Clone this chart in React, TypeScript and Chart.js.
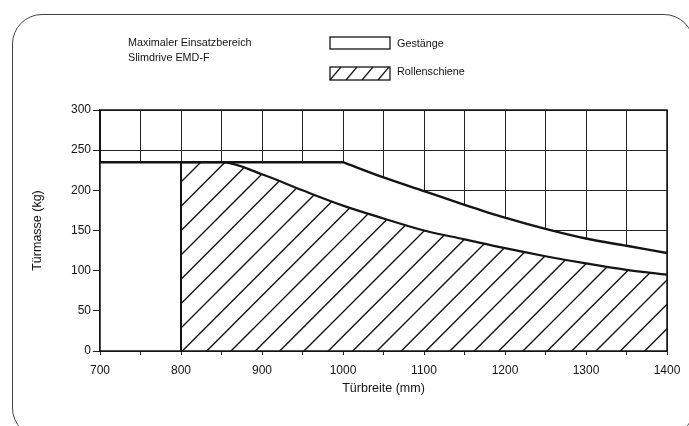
import React, { useEffect, useRef } from 'react';
import { Chart, registerables } from 'chart.js';

Chart.register(...registerables);

// ---- data ----
const xMin = 700;
const xMax = 1400;
const yMin = 0;
const yMax = 300;
const xStep = 50;
const yStep = 50;

// Gestänge: flat part and falling part
const gestangeFlatX = [700, 1000];
const gestangeFlatY = [235, 235];
const gestangeCurveX = [1000, 1050, 1100, 1150, 1200, 1250, 1300, 1350, 1400];
const gestangeCurveY = [235, 216, 199, 182, 166, 152, 140, 131, 122];

// Rollenschiene
const rollenX = [800, 850, 900, 950, 1000, 1050, 1100, 1150, 1200, 1250, 1300, 1350, 1400];
const rollenY = [235, 235, 220, 200, 181, 165, 150, 139, 128, 118, 109, 101, 95];

const rollenEdgeX = [800, 800];
const rollenEdgeY = [0, 235];

const titleLines = ['Maximaler Einsatzbereich', 'Slimdrive EMD-F'];
const legendLabels = ['Gestänge', 'Rollenschiene'];
const xTitle = 'Türbreite (mm)';
const yTitle = 'Türmasse (kg)';

const FONT = '"Liberation Sans", Arial, Helvetica, sans-serif';
const INK = '#141414';

function makeHatch(ctx: CanvasRenderingContext2D): CanvasPattern | string {
  const s = 73;
  const gap = s / 3;
  const c = document.createElement('canvas');
  c.width = s;
  c.height = s;
  const g = c.getContext('2d');
  if (!g) return 'rgba(0,0,0,0)';
  g.strokeStyle = INK;
  g.lineWidth = 1.4;
  g.beginPath();
  for (let k = -1; k <= 7; k++) {
    const cc = k * gap;
    g.moveTo(cc + 5, -5);
    g.lineTo(cc - s - 5, s + 5);
  }
  g.stroke();
  const p = ctx.createPattern(c, 'repeat');
  if (!p) return 'rgba(0,0,0,0)';
  try {
    p.setTransform(new DOMMatrix().translate(-2, 0));
  } catch (e) {
    /* ignore */
  }
  return p;
}

const framePlugin = {
  id: 'plotFrame',
  afterDatasetsDraw(chart: any) {
    const { ctx, chartArea: a } = chart;
    ctx.save();
    ctx.strokeStyle = INK;
    ctx.lineWidth = 1.5;
    ctx.strokeRect(a.left, a.top, a.right - a.left, a.bottom - a.top);
    ctx.restore();
  },
};

function ChartCanvas() {
  const ref = useRef<HTMLCanvasElement | null>(null);
  useEffect(() => {
    const canvas = ref.current;
    if (!canvas) return;
    const ctx = canvas.getContext('2d');
    if (!ctx) return;
    const hatch = makeHatch(ctx);
    const toPts = (xs: number[], ys: number[]) => xs.map((x, i) => ({ x, y: ys[i] }));

    const chart = new Chart(canvas, {
      type: 'line',
      data: {
        datasets: [
          {
            label: legendLabels[1],
            data: toPts(rollenX, rollenY),
            borderColor: INK,
            borderWidth: 2.2,
            backgroundColor: hatch as any,
            fill: 'origin',
            pointRadius: 0,
            cubicInterpolationMode: 'monotone',
            order: 1,
          },
          {
            label: legendLabels[1] + ' edge',
            data: toPts(rollenEdgeX, rollenEdgeY),
            borderColor: INK,
            borderWidth: 2,
            fill: false,
            pointRadius: 0,
            tension: 0,
            order: 0,
          },
          {
            label: legendLabels[0],
            data: toPts(gestangeCurveX, gestangeCurveY),
            borderColor: INK,
            borderWidth: 2.4,
            backgroundColor: '#ffffff',
            fill: 'origin',
            pointRadius: 0,
            cubicInterpolationMode: 'monotone',
            order: 2,
          },
          {
            label: legendLabels[0] + ' flat',
            data: toPts(gestangeFlatX, gestangeFlatY),
            borderColor: INK,
            borderWidth: 2.4,
            backgroundColor: '#ffffff',
            fill: 'origin',
            pointRadius: 0,
            tension: 0,
            order: 3,
          },
        ] as any,
      },
      options: {
        animation: false,
        responsive: false,
        layout: { padding: { left: 0, top: 110, right: 22, bottom: 0 } },
        plugins: {
          legend: { display: false },
          tooltip: { enabled: false },
        },
        scales: {
          x: {
            type: 'linear',
            min: xMin,
            max: xMax,
            afterFit: (s: any) => {
              s.height = 75;
            },
            ticks: {
              stepSize: xStep,
              autoSkip: false,
              maxRotation: 0,
              color: INK,
              font: { family: FONT, size: 12 },
              padding: 8,
              callback: (v: any) => (Number(v) % 100 === 0 ? String(v) : ''),
            },
            grid: { color: '#222', lineWidth: 1, tickLength: 4, drawTicks: true },
            border: { color: INK, width: 1.5 },
            title: {
              display: true,
              text: xTitle,
              color: INK,
              font: { family: FONT, size: 12.5 },
              padding: { top: 0, bottom: 30 },
            },
          },
          y: {
            type: 'linear',
            min: yMin,
            max: yMax,
            afterFit: (s: any) => {
              s.width = 100;
            },
            ticks: {
              stepSize: yStep,
              color: INK,
              font: { family: FONT, size: 12 },
              padding: 2,
            },
            grid: { color: '#222', lineWidth: 1, tickLength: 7, drawTicks: true },
            border: { color: INK, width: 1.5 },
            title: {
              display: true,
              text: yTitle,
              color: INK,
              font: { family: FONT, size: 12.5 },
              padding: { top: 30, bottom: 0 },
            },
          },
        },
      } as any,
      plugins: [framePlugin],
    });
    return () => {
      chart.destroy();
    };
  }, []);
  return <canvas ref={ref} width={689} height={426} style={{ position: 'absolute', left: 0, top: 0, width: 689, height: 426 }} />;
}

export default function App() {
  const textStyle: React.CSSProperties = {
    position: 'absolute',
    fontFamily: FONT,
    fontSize: 10.8,
    lineHeight: '15px',
    color: INK,
    whiteSpace: 'nowrap',
  };
  return (
    <div
      style={{
        position: 'fixed',
        left: 0,
        top: 0,
        width: 689,
        height: 426,
        overflow: 'hidden',
        background: '#ffffff',
      }}
    >
      <div
        style={{
          position: 'absolute',
          left: 12,
          top: 14,
          width: 682,
          height: 424,
          border: '1.6px solid #444',
          borderRadius: 30,
          boxSizing: 'border-box',
        }}
      />
      <ChartCanvas />
      <div style={{ ...textStyle, left: 128, top: 34.5 }}>{titleLines[0]}</div>
      <div style={{ ...textStyle, left: 128, top: 49.5 }}>{titleLines[1]}</div>
      <svg style={{ position: 'absolute', left: 329, top: 36 }} width={63} height={46}>
        <rect x={1} y={1} width={60} height={12} fill="#fff" stroke={INK} strokeWidth={1.3} />
        <rect x={1} y={31} width={60} height={13} fill="#fff" stroke={INK} strokeWidth={1.3} />
        {[0, 16, 32, 48].map((x) => (
          <line key={x} x1={x + 1} y1={44} x2={x + 12} y2={31} stroke={INK} strokeWidth={1.2} />
        ))}
      </svg>
      <div style={{ ...textStyle, left: 397, top: 35.5 }}>{legendLabels[0]}</div>
      <div style={{ ...textStyle, left: 397, top: 64 }}>{legendLabels[1]}</div>
    </div>
  );
}
